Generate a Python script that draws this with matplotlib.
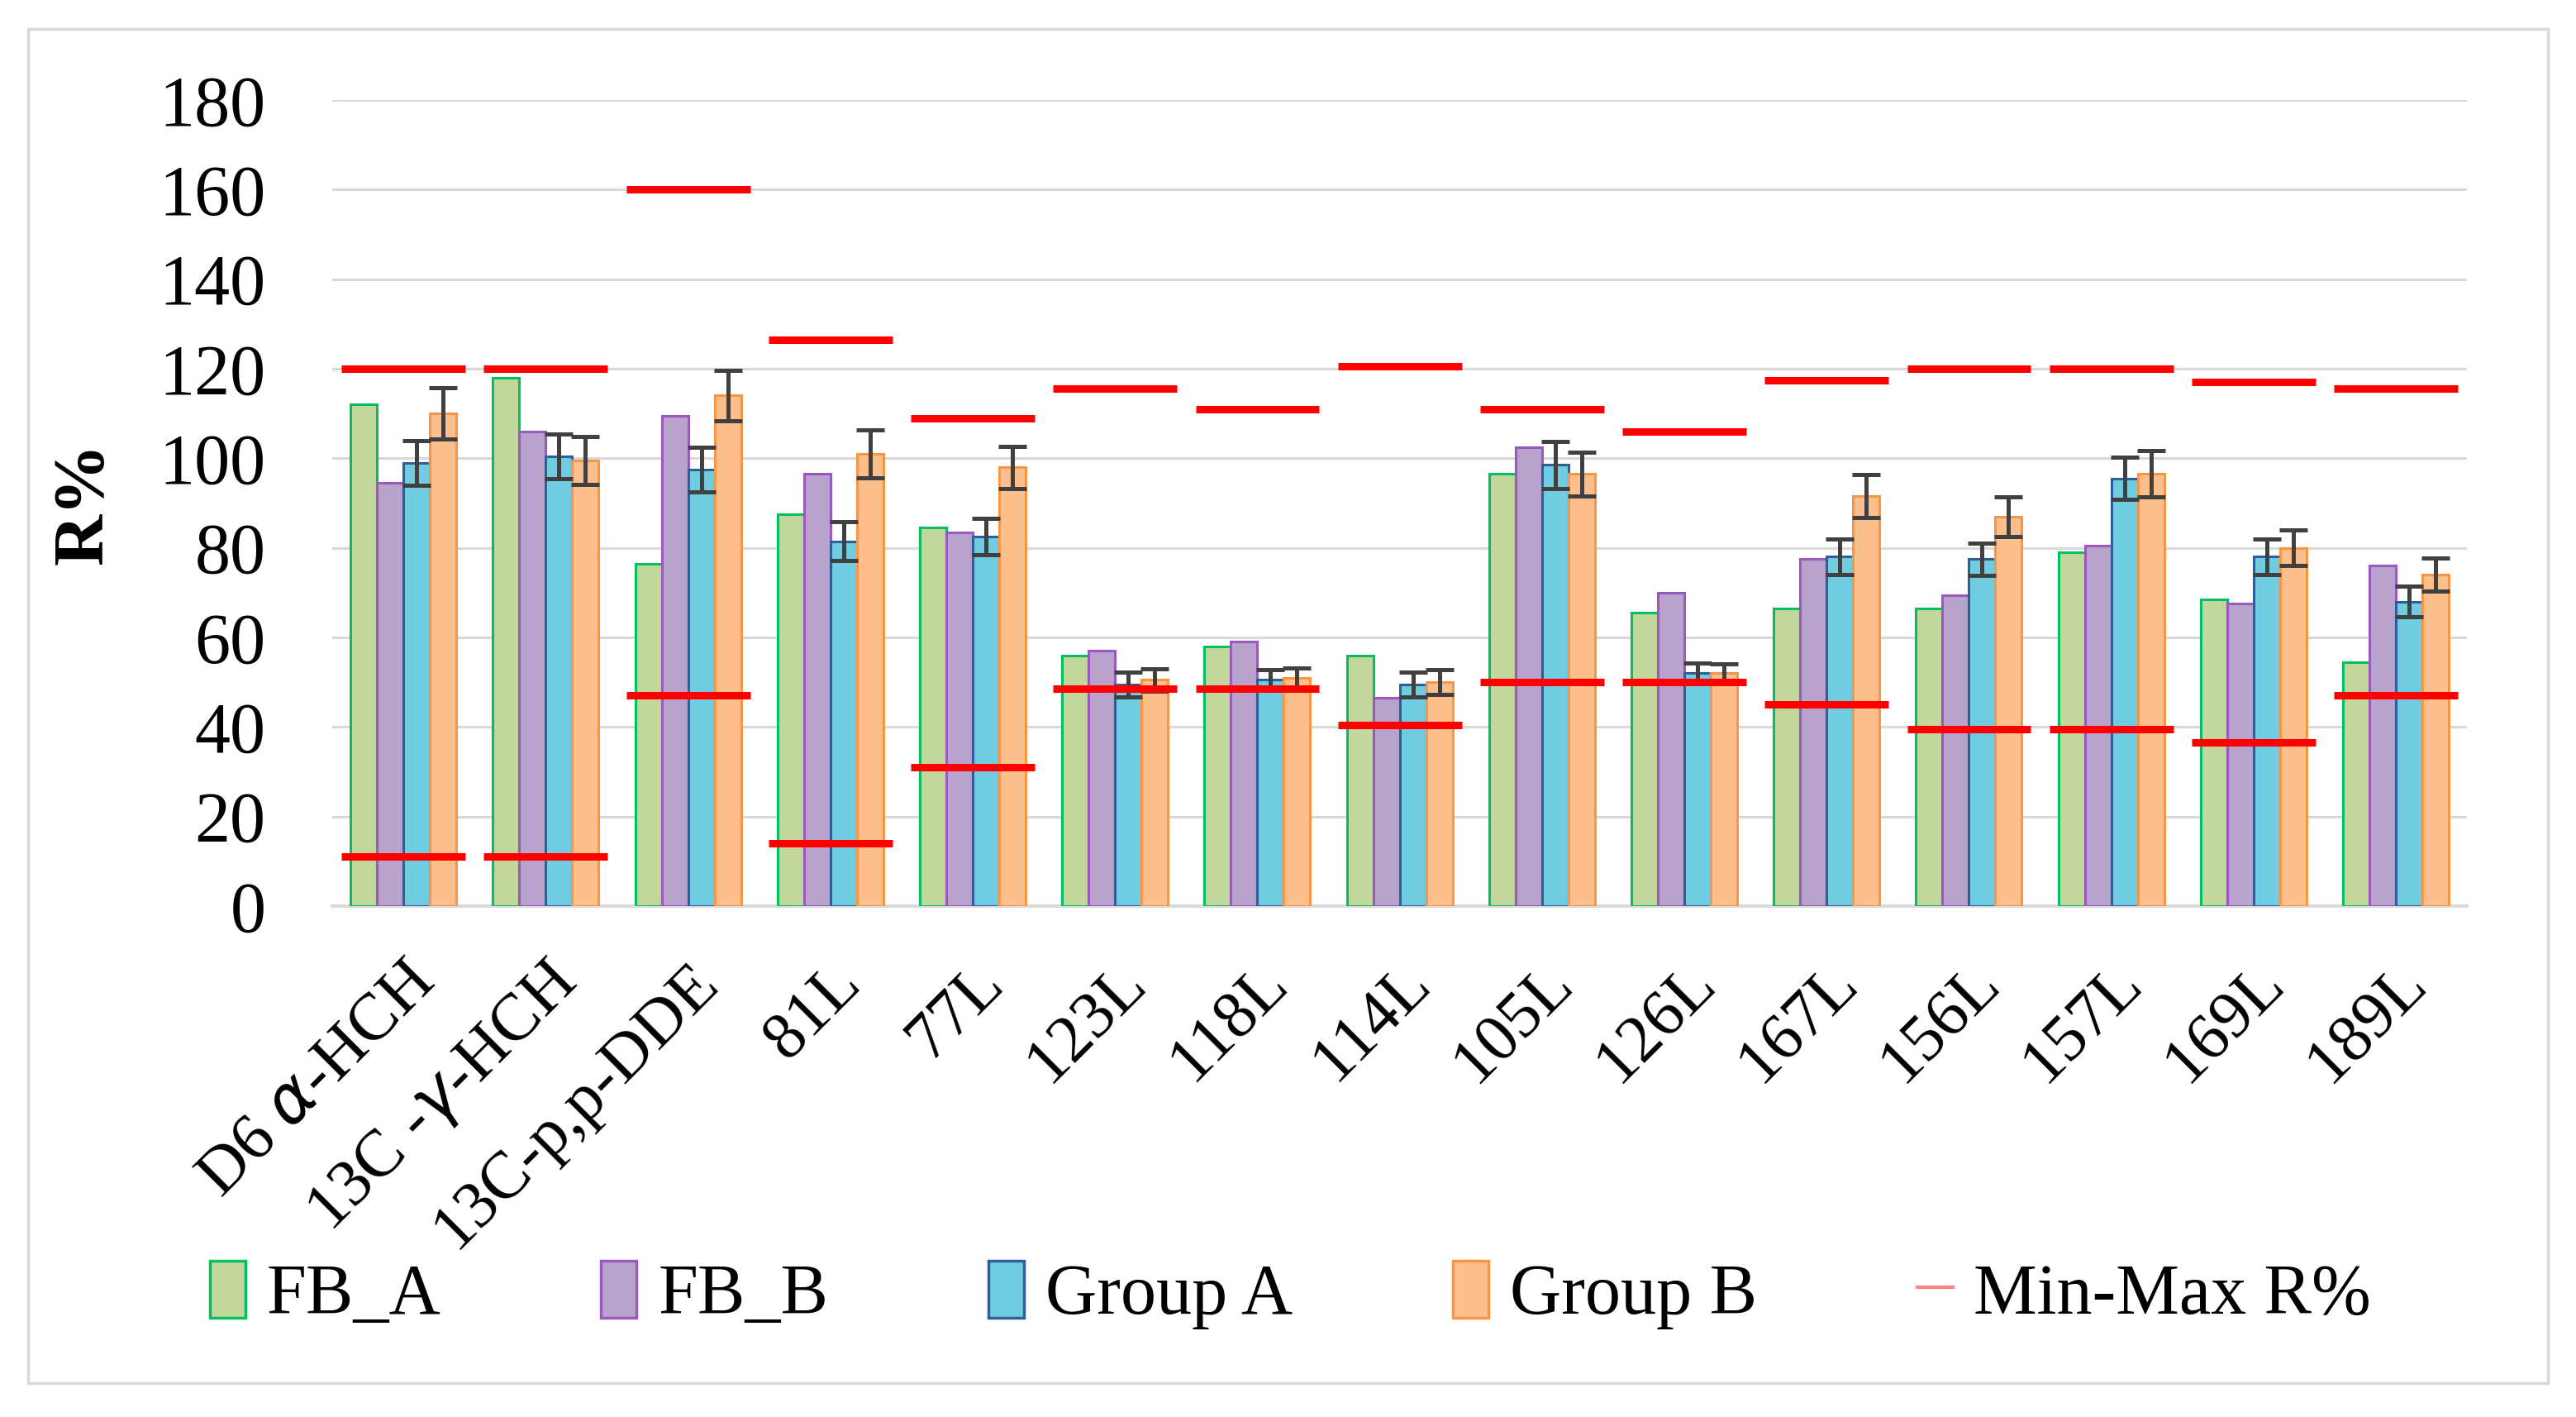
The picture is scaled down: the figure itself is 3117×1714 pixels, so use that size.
import numpy as np
import matplotlib
matplotlib.use('Agg')
import matplotlib.pyplot as plt
from matplotlib.patches import Patch, Rectangle
from matplotlib.lines import Line2D

plt.rcParams['font.family'] = ['Liberation Serif', 'DejaVu Serif']

# data
categories = ['D6 $\\alpha$-HCH', '13C -$\\gamma$-HCH', '13C-p,p-DDE', '81L', '77L', '123L',
              '118L', '114L', '105L', '126L', '167L', '156L', '157L', '169L', '189L']
fb_a = [112, 118, 76.5, 87.5, 84.5, 56, 58, 56, 96.5, 65.5, 66.5, 66.5, 79, 68.5, 54.5]
fb_b = [94.5, 106, 109.5, 96.5, 83.5, 57, 59, 46.5, 102.5, 70, 77.5, 69.5, 80.5, 67.5, 76]
group_a = [99, 100.5, 97.5, 81.5, 82.5, 49.5, 50.5, 49.5, 98.5, 52, 78, 77.5, 95.5, 78, 68]
group_a_err = [5, 5, 5, 4.3, 4.1, 2.8, 2.3, 2.8, 5.3, 2.2, 4, 3.6, 4.7, 4, 3.4]
group_b = [110, 99.5, 114, 101, 98, 50.5, 51, 50, 96.5, 52, 91.5, 87, 96.5, 80, 74]
group_b_err = [5.7, 5.3, 5.7, 5.4, 4.7, 2.5, 2.2, 2.7, 4.9, 2, 4.8, 4.4, 5.2, 4, 3.7]
r_min = [11, 11, 47, 14, 31, 48.5, 48.5, 40.5, 50, 50, 45, 39.5, 39.5, 36.5, 47]
r_max = [120, 120, 160, 126.5, 109, 115.5, 111, 120.5, 111, 106, 117.5, 120, 120, 117, 115.5]

series = [('FB_A', fb_a, None, '#c3d69b', '#00c060'),
          ('FB_B', fb_b, None, '#b7a3cc', '#9b59c0'),
          ('Group A', group_a, group_a_err, '#70cce0', '#2f5f98'),
          ('Group B', group_b, group_b_err, '#fdbf8c', '#f79646')]

fig = plt.figure(figsize=(31.17, 17.14), dpi=100)
ax = fig.add_axes([0.129, 0.3606, 0.8287, 0.5688])

x = np.arange(len(categories))
w = 0.186
handles = []
for k, (name, vals, err, fc, ec) in enumerate(series):
    pos = x + (k - 1.5) * w
    ax.bar(pos, vals, w, color=fc, edgecolor=ec, linewidth=2.2, zorder=3)
    if err is not None:
        ax.errorbar(pos, vals, yerr=err, fmt='none', ecolor='#404040',
                    elinewidth=3.6, capsize=12, capthick=3.6, zorder=4)
    handles.append(Patch(facecolor=fc, edgecolor=ec, linewidth=2.5, label=name))

ax.hlines(r_min, x - 0.435, x + 0.435, color='#ff0000', linewidth=6.5, zorder=5)
ax.hlines(r_max, x - 0.435, x + 0.435, color='#ff0000', linewidth=6.5, zorder=5)
handles.append(Line2D([], [], color='#ff8080', linewidth=3, label='Min-Max R%'))

ax.set_xlim(-0.5, len(categories) - 0.5)
ax.set_ylim(0, 180)
ax.set_yticks(range(0, 181, 20))
ax.yaxis.grid(True, color='#d9d9d9', linewidth=2.2, zorder=0)
ax.set_axisbelow(True)
for s in ['top', 'right', 'left']:
    ax.spines[s].set_visible(False)
ax.spines['bottom'].set_color('#d9d9d9')
ax.spines['bottom'].set_linewidth(3)
ax.tick_params(axis='both', length=0, labelsize=58)
ax.tick_params(axis='y', pad=58, labelsize=62)
ax.set_xticks(x)
ax.set_xticklabels(categories, rotation=45, ha='right', rotation_mode='anchor')
ax.tick_params(axis='x', pad=40)
ax.set_ylabel('R%', fontsize=62, fontweight='bold', labelpad=36)

fig.legend(handles=handles, loc='center', bbox_to_anchor=(0.501, 0.086), ncol=5,
           frameon=False, fontsize=62, handlelength=0.5, handleheight=0.85,
           handletextpad=0.3, columnspacing=2.25)

fig.patches.append(Rectangle((34 / 3117, 1 - 1673 / 1714), (3083 - 34) / 3117, (1673 - 35) / 1714,
                             transform=fig.transFigure, fill=False, edgecolor='#d9d9d9',
                             linewidth=2.5))

fig.savefig('out.png', dpi=100)
